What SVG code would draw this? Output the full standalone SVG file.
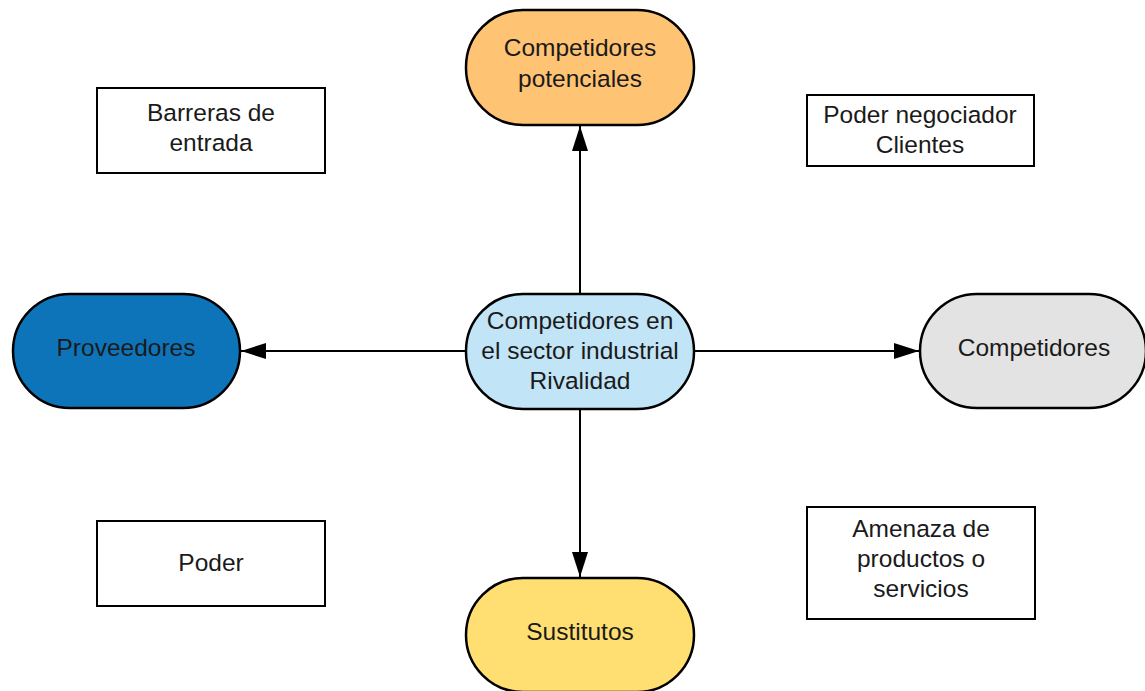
<svg xmlns="http://www.w3.org/2000/svg" width="1145" height="691" viewBox="0 0 1145 691">
<defs>
<style>
.n{stroke:#000;stroke-width:2.5}
.b{fill:#fff;stroke:#000;stroke-width:2}
.t{font-family:"Liberation Sans",Arial,sans-serif;font-size:24.5px;fill:#1a1a1a;text-anchor:middle}
.c{stroke:#000;stroke-width:2;fill:none;marker-end:url(#ah)}
</style>
<marker id="ah" viewBox="0 0 25 16" refX="25" refY="8" markerWidth="25" markerHeight="16" markerUnits="userSpaceOnUse" orient="auto">
<path d="M0,0 L25,8 L0,16 z" fill="#000"/>
</marker>
</defs>
<rect width="1145" height="691" fill="#fff"/>
<g id="connectors">
<line class="c" x1="580" y1="294" x2="580" y2="126"/>
<line class="c" x1="466" y1="351" x2="241" y2="351"/>
<line class="c" x1="694" y1="351" x2="919" y2="351"/>
<line class="c" x1="580" y1="409" x2="580" y2="577"/>
</g>
<g id="potenciales">
<rect class="n" x="466" y="10" width="228" height="115" rx="57" fill="#FFC374"/>
<text class="t" x="580" y="56">Competidores</text>
<text class="t" x="580" y="87">potenciales</text>
</g>
<g id="rivalidad">
<rect class="n" x="466" y="294" width="228" height="115" rx="57" fill="#C1E4F7"/>
<text class="t" x="580" y="329">Competidores en</text>
<text class="t" x="580" y="359">el sector industrial</text>
<text class="t" x="580" y="389">Rivalidad</text>
</g>
<g id="proveedores">
<rect class="n" x="13" y="294" width="227" height="114" rx="57" fill="#0E74BA"/>
<text class="t" x="126" y="356">Proveedores</text>
</g>
<g id="competidores">
<rect class="n" x="920" y="294" width="226" height="114" rx="57" fill="#E3E3E3"/>
<text class="t" x="1034" y="356">Competidores</text>
</g>
<g id="sustitutos">
<rect class="n" x="466" y="578" width="228" height="114" rx="57" fill="#FFDF71"/>
<text class="t" x="580" y="640">Sustitutos</text>
</g>
<g id="barreras">
<rect class="b" x="97" y="88" width="228" height="85"/>
<text class="t" x="211" y="121">Barreras de</text>
<text class="t" x="211" y="151">entrada</text>
</g>
<g id="clientes">
<rect class="b" x="807" y="95" width="227" height="71"/>
<text class="t" x="920" y="123">Poder negociador</text>
<text class="t" x="920" y="153">Clientes</text>
</g>
<g id="poder">
<rect class="b" x="97" y="521" width="228" height="85"/>
<text class="t" x="211" y="571">Poder</text>
</g>
<g id="amenaza">
<rect class="b" x="807" y="507" width="228" height="112"/>
<text class="t" x="921" y="537">Amenaza de</text>
<text class="t" x="921" y="567">productos o</text>
<text class="t" x="921" y="597">servicios</text>
</g>
</svg>
